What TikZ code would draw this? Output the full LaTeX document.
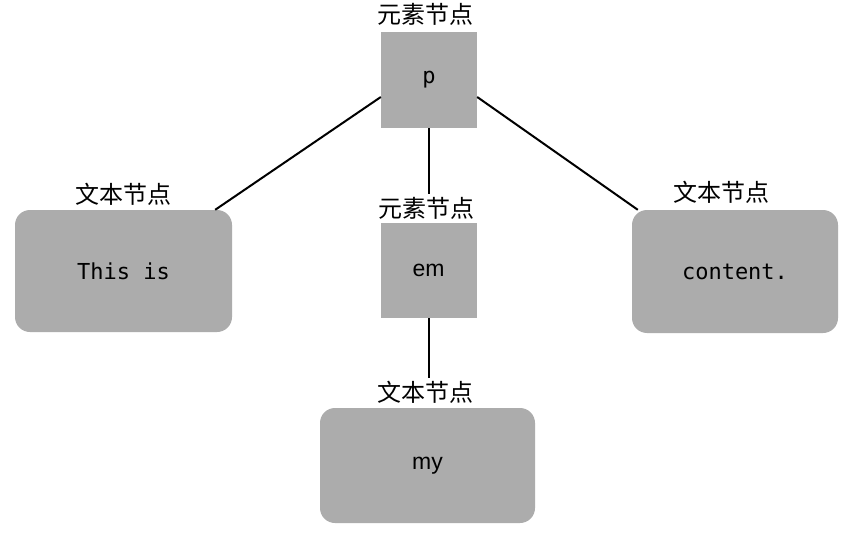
\documentclass[tikz,border=0pt]{standalone}
\usepackage{fontspec}
\newfontfamily\cjk{Noto Sans CJK SC}
\newfontfamily\monof{DejaVu Sans Mono}
\newfontfamily\sansf{Liberation Sans}
\definecolor{boxgray}{RGB}{172,172,172}
\begin{document}
\begin{tikzpicture}[x=1pt,y=-1pt,
  elembox/.style={fill=boxgray, draw=none, minimum width=96pt, minimum height=96pt, inner sep=0pt},
  textbox/.style={fill=boxgray, draw=none, rounded corners=15pt, inner sep=0pt},
  lbl/.style={font=\cjk\fontsize{24}{28}\selectfont, inner sep=0pt},
  conn/.style={line width=2pt, black}]
\useasboundingbox[fill=white] (0,0) rectangle (852,543);
% element nodes
\node[elembox] (p) at (429,80) {\monof\fontsize{22}{26}\selectfont p};
\node[lbl] (pl) at (425,14) {元素节点};
\node[elembox, minimum height=95pt] (em) at (428.5,270.5) {\sansf\fontsize{23}{26}\selectfont em};
\node[lbl] (eml) at (426,208) {元素节点};
% text nodes
\node[textbox, minimum width=217pt, minimum height=122pt] (this) at (123.5,271) {\monof\fontsize{22}{26}\selectfont This is};
\node[lbl] (thisl) at (123,194) {文本节点};
\node[textbox, minimum width=206pt, minimum height=123pt] (content) at (735,271.5) {\monof\fontsize{22}{26}\selectfont content.};
\node[lbl] (contentl) at (721,192) {文本节点};
\node[textbox, minimum width=215pt, minimum height=115pt] (my) at (427.5,465.5) {\sansf\fontsize{23}{26}\selectfont my};
\node[lbl] (myl) at (425,392) {文本节点};
% connectors
\draw[conn] ([yshift=-17pt]p.west) -- ([xshift=-17pt]this.north east);
\draw[conn] ([yshift=-17pt]p.east) -- ([xshift=6pt]content.north west);
\draw[conn] (p.south) -- ([yshift=3pt]eml.north -| p.south);
\draw[conn] (em.south) -- ([yshift=3pt]myl.north -| em.south);
\end{tikzpicture}
\end{document}
